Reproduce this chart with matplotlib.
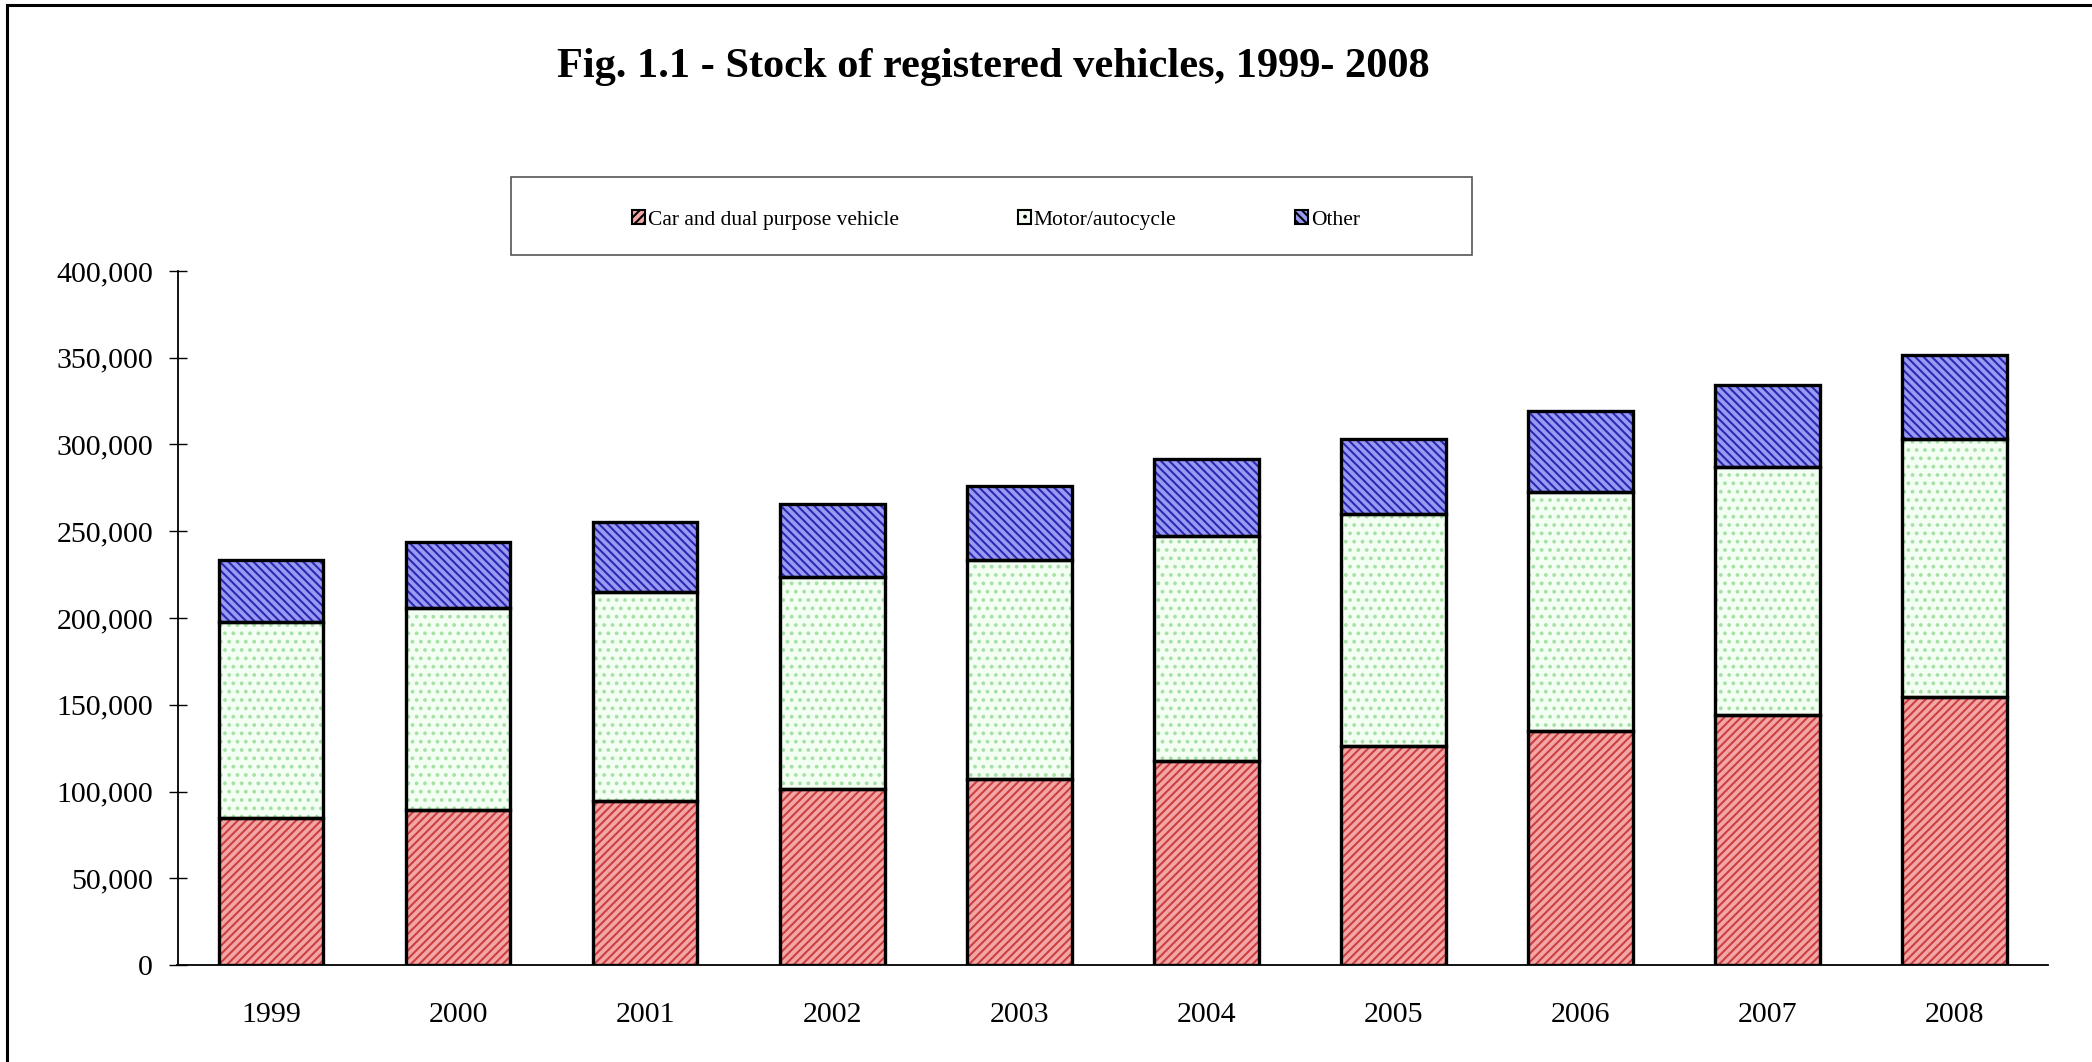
import matplotlib
matplotlib.use("Agg")
import matplotlib.pyplot as plt
from matplotlib.lines import Line2D
from matplotlib.patches import Patch, Rectangle
from matplotlib.ticker import FuncFormatter, MultipleLocator
import numpy as np

years = ["1999", "2000", "2001", "2002", "2003", "2004", "2005", "2006", "2007", "2008"]
car = [84900, 89300, 94700, 101300, 107400, 117600, 126400, 134700, 144100, 154600]
moto = [113000, 116600, 120100, 122500, 125800, 129800, 133700, 138100, 143100, 148600]
other = [35500, 37700, 40300, 41900, 42900, 44100, 42900, 46500, 47100, 48200]
series_names = ["Car and dual purpose vehicle", "Motor/autocycle", "Other"]
title = "Fig. 1.1 - Stock of registered vehicles, 1999- 2008"

plt.rcParams['font.family'] = ['Liberation Serif', 'DejaVu Serif']
plt.rcParams['hatch.linewidth'] = 1.5

W, H = 2092, 1062
fig = plt.figure(figsize=(W / 100, H / 100), dpi=100)
ax = fig.add_axes([177.5 / W, 1 - 965 / H, (2048 - 177.5) / W, (965 - 271) / H])

x = np.arange(len(years))
bw = 0.56
styles = [
    dict(face='#F4A6A6', hatch='////', hcol='#CC4040'),
    dict(face='#F2FFF2', hatch='..', hcol='#A6E0A6'),
    dict(face='#9A9AF5', hatch='\\\\\\\\', hcol='#2A2AB0'),
]
bottoms = np.zeros(len(years))
for vals, st in zip([car, moto, other], styles):
    vals = np.array(vals, dtype=float)
    ax.bar(x, vals, bw, bottom=bottoms, color=st['face'], hatch=st['hatch'],
           edgecolor=st['hcol'], linewidth=0, zorder=2)
    ax.bar(x, vals, bw, bottom=bottoms, fill=False, edgecolor='black',
           linewidth=2.4, zorder=3)
    bottoms += vals

ax.set_xlim(-0.5, len(years) - 0.5)
ax.set_ylim(0, 400000)
ax.yaxis.set_major_locator(MultipleLocator(50000))
ax.yaxis.set_major_formatter(FuncFormatter(lambda v, p: f"{int(v):,}"))
ax.set_xticks(x)
ax.set_xticklabels(years)
ax.tick_params(axis='x', length=0, pad=27, labelsize=21.5)
ax.tick_params(axis='y', direction='inout', length=13, width=1.0, pad=11, labelsize=21.5)
for s in ['top', 'right']:
    ax.spines[s].set_visible(False)
ax.spines['left'].set_linewidth(1.3)
ax.spines['bottom'].set_linewidth(1.3)

# legend box
fig.add_artist(Rectangle((511 / W, 1 - 255 / H), (1472 - 511) / W, (255 - 177) / H,
                         transform=fig.transFigure, fill=False,
                         edgecolor='#555555', linewidth=1.2))
handles = []
for st in styles:
    handles.append(Patch(facecolor=st['face'], hatch=st['hatch'], edgecolor='black', linewidth=1.5))
leg = fig.legend(handles, series_names, loc='center', ncol=3,
                 bbox_to_anchor=(996 / W, 1 - 220 / H),
                 fontsize=15.5, frameon=False, handlelength=0.6,
                 handleheight=0.6, handletextpad=0.15, columnspacing=5.5,
                 borderpad=0.3)

fig.text(993 / W, 1 - 67 / H, title, ha='center', va='center',
         fontsize=30.5, fontweight='bold')

# figure border (top and left only visible)
fig.add_artist(Line2D([7 / W, 7 / W], [0, 1 - 4.5 / H], transform=fig.transFigure,
                      color='black', linewidth=2.2))
fig.add_artist(Line2D([7 / W, 1], [1 - 4.5 / H, 1 - 4.5 / H], transform=fig.transFigure,
                      color='black', linewidth=2.2))

fig.savefig("out.png", dpi=100)
